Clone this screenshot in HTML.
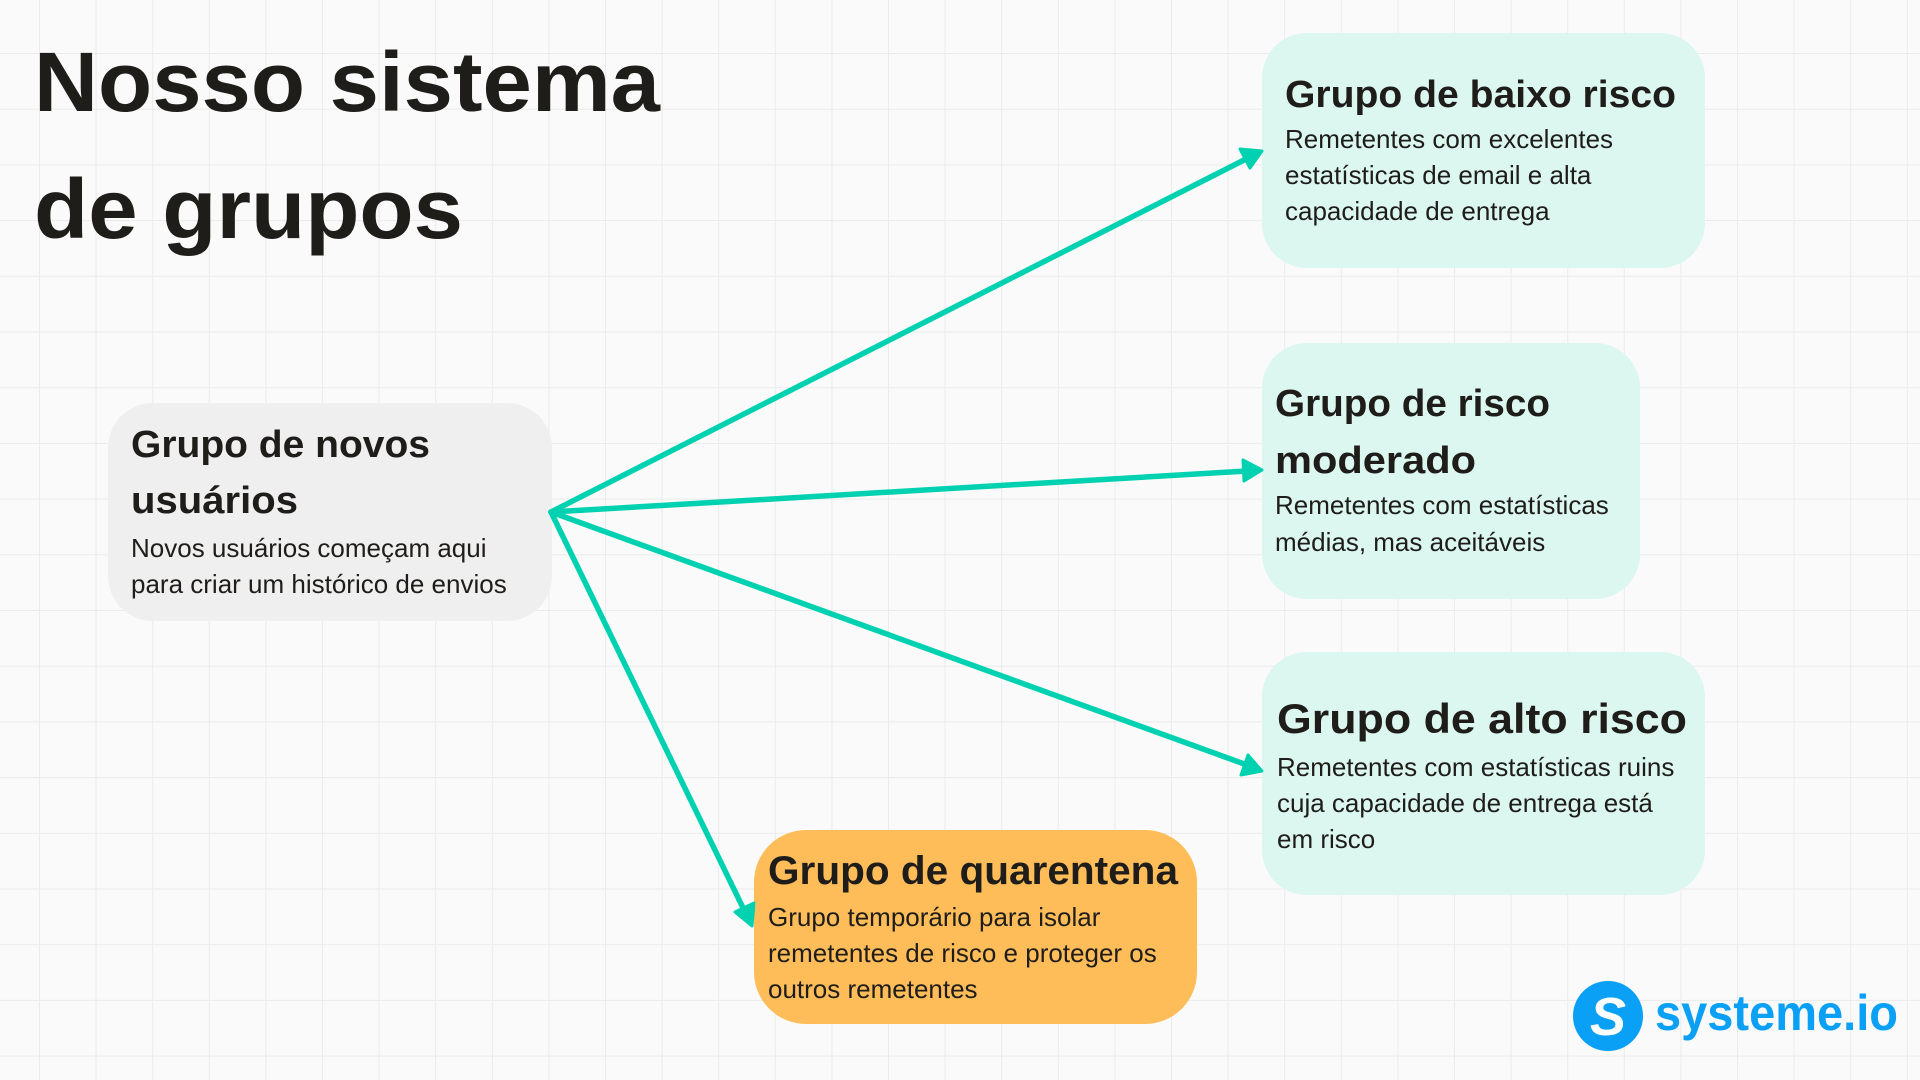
<!DOCTYPE html>
<html><head><meta charset="utf-8"><style>
html,body{margin:0;padding:0;width:1920px;height:1080px;overflow:hidden;background:#fafafa}
svg{display:block}
text{font-family:"Liberation Sans",sans-serif;fill:#1f1d1a}
.h{font-weight:bold}
.b{font-size:26px}
</style></head><body>
<svg width="1920" height="1080" viewBox="0 0 1920 1080" xmlns="http://www.w3.org/2000/svg">
<defs>
<pattern id="g" x="39" y="53" width="56.6" height="55.7" patternUnits="userSpaceOnUse">
<path d="M0 0V55.7M0 0H56.6" stroke="#ebebeb" stroke-width="2" fill="none"/>
</pattern>
</defs>
<rect width="1920" height="1080" fill="#fafafa"/>
<rect width="1920" height="1080" fill="url(#g)"/>

<text class="h" x="34" y="111" font-size="84" textLength="626" lengthAdjust="spacingAndGlyphs">Nosso sistema</text>
<text class="h" x="34" y="238" font-size="84" textLength="429" lengthAdjust="spacingAndGlyphs">de grupos</text>

<rect x="108" y="403" width="444" height="218" rx="45" fill="#efefef"/>
<rect x="1262" y="33" width="443" height="235" rx="45" fill="#dcf6f0"/>
<rect x="1262" y="343" width="378" height="256" rx="45" fill="#dcf6f0"/>
<rect x="1262" y="652" width="443" height="243" rx="45" fill="#dcf6f0"/>
<rect x="754" y="830" width="443" height="194" rx="52" fill="#ffbd59"/>

<g stroke="#00d1b0" stroke-width="5.5" fill="none" stroke-linecap="round">
<line x1="551" y1="512" x2="1248" y2="158"/>
<line x1="551" y1="512" x2="1247" y2="471"/>
<line x1="551" y1="512" x2="1247" y2="765"/>
<line x1="551" y1="512" x2="745" y2="912"/>
</g>
<g fill="#00d1b0" stroke="#00d1b0" stroke-width="3" stroke-linejoin="round">
<polygon points="1262,151 1240,149 1250,168"/>
<polygon points="1262,470 1243,460 1244,481"/>
<polygon points="1262,771 1248,755 1241,775"/>
<polygon points="752,926 735,912 754,903"/>
</g>

<text class="h" x="131" y="457" font-size="38" textLength="299" lengthAdjust="spacingAndGlyphs">Grupo de novos</text>
<text class="h" x="131" y="513" font-size="38" textLength="167" lengthAdjust="spacingAndGlyphs">usuários</text>
<text class="b" x="131" y="557">Novos usuários começam aqui</text>
<text class="b" x="131" y="593">para criar um histórico de envios</text>

<text class="h" x="1285" y="107" font-size="38" textLength="391" lengthAdjust="spacingAndGlyphs">Grupo de baixo risco</text>
<text class="b" x="1285" y="148">Remetentes com excelentes</text>
<text class="b" x="1285" y="184">estatísticas de email e alta</text>
<text class="b" x="1285" y="220">capacidade de entrega</text>

<text class="h" x="1275" y="416" font-size="38" textLength="275" lengthAdjust="spacingAndGlyphs">Grupo de risco</text>
<text class="h" x="1275" y="473" font-size="38" textLength="201" lengthAdjust="spacingAndGlyphs">moderado</text>
<text class="b" x="1275" y="514">Remetentes com estatísticas</text>
<text class="b" x="1275" y="551">médias, mas aceitáveis</text>

<text class="h" x="1277" y="733" font-size="42" textLength="410" lengthAdjust="spacingAndGlyphs">Grupo de alto risco</text>
<text class="b" x="1277" y="776">Remetentes com estatísticas ruins</text>
<text class="b" x="1277" y="812">cuja capacidade de entrega está</text>
<text class="b" x="1277" y="848">em risco</text>

<text class="h" x="768" y="884" font-size="40" textLength="410" lengthAdjust="spacingAndGlyphs">Grupo de quarentena</text>
<text class="b" x="768" y="926">Grupo temporário para isolar</text>
<text class="b" x="768" y="962">remetentes de risco e proteger os</text>
<text class="b" x="768" y="998">outros remetentes</text>

<circle cx="1608" cy="1016" r="35" fill="#0aa0f5"/>
<text x="1608" y="1035" font-size="54" font-weight="bold" text-anchor="middle" style="fill:#fff;font-style:italic">S</text>
<text x="1655" y="1030" font-size="50" font-weight="bold" style="fill:#0aa0f5" textLength="243" lengthAdjust="spacingAndGlyphs">systeme.io</text>
</svg>
</body></html>
